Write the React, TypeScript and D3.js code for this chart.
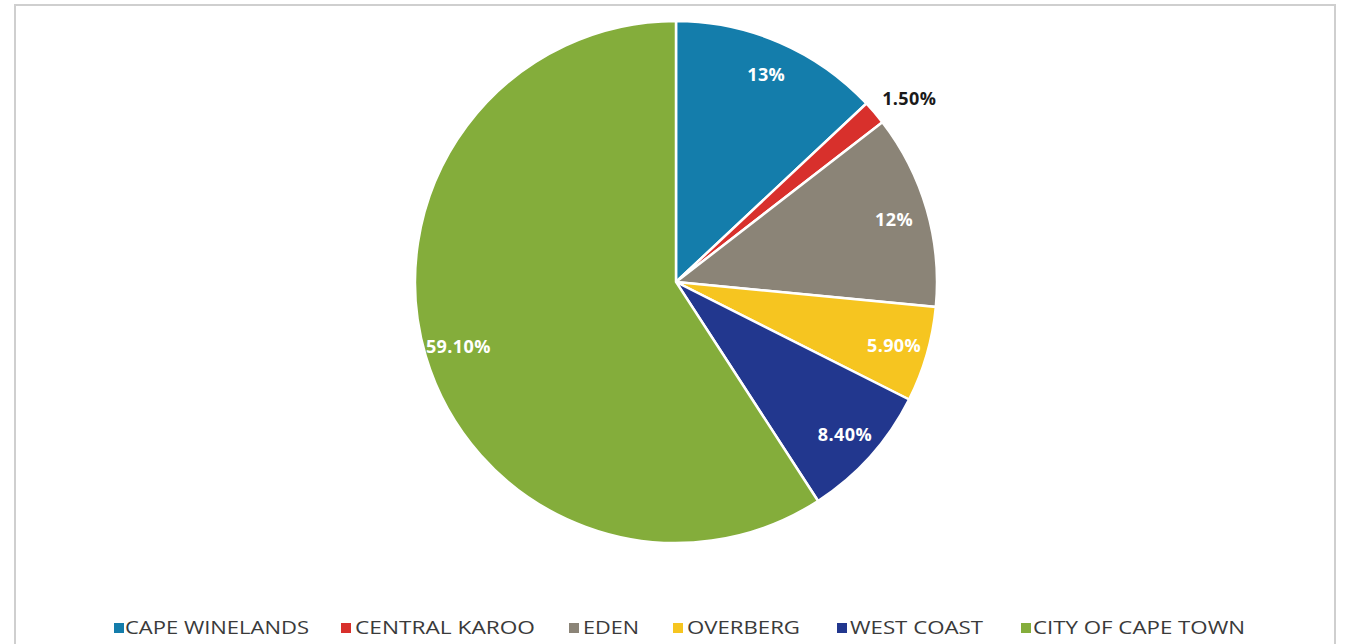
import React from "react";
import * as d3 from "d3";

const categories = ["CAPE WINELANDS", "CENTRAL KAROO", "EDEN", "OVERBERG", "WEST COAST", "CITY OF CAPE TOWN"];
const values = [13, 1.5, 12, 5.9, 8.4, 59.1];
const labels = ["13%", "1.50%", "12%", "5.90%", "8.40%", "59.10%"];
const colors = ["#147dab", "#d8302c", "#8b8477", "#f6c520", "#22378e", "#84ad3b"];
const legendSquareX = [114, 341, 569, 673, 837, 1021];
const legendTextX = [125, 355, 583, 687, 850, 1033];
const legendTextW = [184, 180, 56, 113, 133, 212];

export default function App() {
  const W = 1350, H = 644;
  const cx = 676, cy = 282, R = 261;
  const pie = d3.pie<number>().sort(null).value((d) => d);
  const arcs = pie(values);
  const arc = d3.arc<d3.PieArcDatum<number>>().innerRadius(0).outerRadius(R);
  const labelArc = d3.arc<d3.PieArcDatum<number>>().innerRadius(227).outerRadius(227);
  const outerArc = d3.arc<d3.PieArcDatum<number>>().innerRadius(296).outerRadius(296);

  return (
    <svg width={W} height={H} style={{ position: "absolute", left: 0, top: 0, background: "#fff" }}>
      <rect x={15} y={5} width={1320} height={700} fill="#fff" stroke="#cfcfcf" strokeWidth={2} />
      <g transform={`translate(${cx},${cy})`}>
        {arcs.map((a, i) => (
          <path key={i} d={arc(a) || ""} fill={colors[i]} stroke="#fff" strokeWidth={2.5} />
        ))}
        {arcs.map((a, i) => {
          const small = values[i] < 3;
          const [x, y] = small ? outerArc.centroid(a) : labelArc.centroid(a);
          return (
            <text
              key={i}
              x={small ? x + 8 : x}
              y={small ? y + 8 : y}
              textAnchor="middle"
              dominantBaseline="central"
              fill={small ? "#1a1a1a" : "#fff"}
              fontFamily="'Open Sans', sans-serif"
              fontWeight={700}
              fontSize={18}
              letterSpacing={0.4}
            >
              {labels[i]}
            </text>
          );
        })}
      </g>
      <g>
        {categories.map((c, i) => (
          <g key={c}>
            <rect x={legendSquareX[i]} y={623} width={10} height={10} fill={colors[i]} />
            <text
              x={legendTextX[i]}
              y={634}
              fill="#3a3a3a"
              fontFamily="'Open Sans', sans-serif"
              fontWeight={400}
              fontSize={19}
              textLength={legendTextW[i]}
              lengthAdjust="spacingAndGlyphs"
            >
              {c}
            </text>
          </g>
        ))}
      </g>
    </svg>
  );
}
